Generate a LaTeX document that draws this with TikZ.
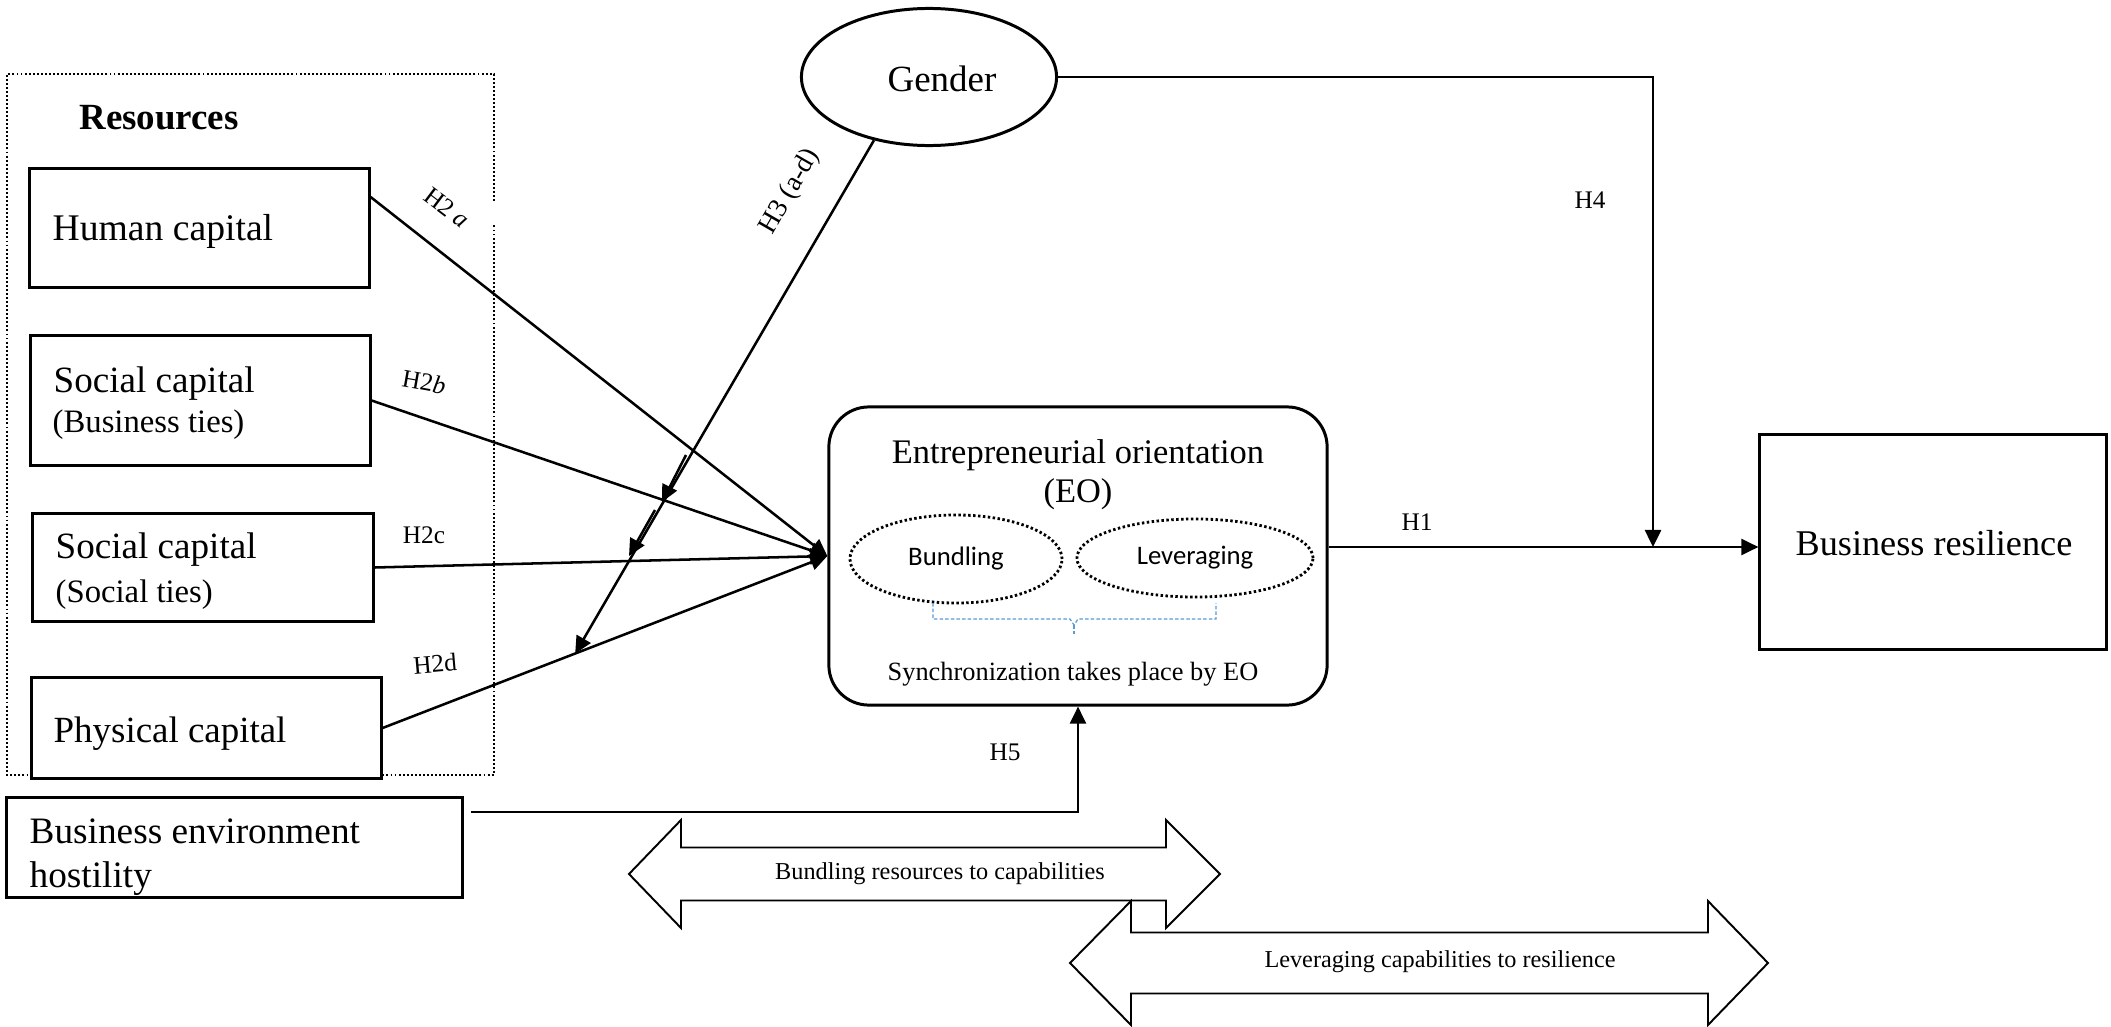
\documentclass[tikz,border=0pt]{standalone}
\usepackage{fontspec}
\setmainfont{Liberation Serif}
\newfontfamily\carlito{Carlito}
\usetikzlibrary{arrows.meta,shapes.geometric,calc}
\newcommand\fsz[1]{\fontsize{#1}{#1}\selectfont}

\begin{document}
\begin{tikzpicture}[x=0.01cm,y=-0.01cm,
  box/.style={draw,line width=0.85pt,fill=white,inner sep=0pt,rectangle},
  txt/.style={inner sep=0pt,anchor=base west},
  ctxt/.style={inner sep=0pt,anchor=base},
  hyp/.style={inner sep=0pt,font=\fsz{7.2pt}},
  link/.style={line width=0.72pt,-{Triangle[length=0.17cm,width=0.16cm]}},
  dotline/.style={line width=0.55pt,dash pattern=on 0.55pt off 0.6pt},
  dotring/.style={draw,ellipse,line width=0.8pt,dash pattern=on 0.7pt off 0.7pt,inner sep=0pt},
  bracket/.style={draw=bracketblue,line width=0.35pt,dash pattern=on 1pt off 0.6pt},
  twoway/.style={draw,line width=0.55pt,fill=white,line join=miter},
]
\definecolor{bracketblue}{RGB}{91,155,213}
\useasboundingbox (0,0) rectangle (2111,1027);

% resources frame, left open beside the H2a label
\draw[dotline] (494,201) -- (494,74) -- (7,74) -- (7,775) -- (494,775) -- (494,224);
\node[inner sep=0pt,font=\fsz{10.5pt}\bfseries] (restitle) at (159,118) {Resources};

% resource boxes
\node[box,minimum width=3.39cm,minimum height=1.18cm] (hc) at (199.5,228) {};
\node[txt,font=\fsz{10.7pt}] (hct) at (52,240) {Human capital};

\node[box,minimum width=3.39cm,minimum height=1.29cm] (bt) at (200.5,400.5) {};
\node[txt,font=\fsz{10.55pt}] (btt1) at (53,392) {Social capital};
\node[txt,font=\fsz{9.3pt}] (btt2) at (52,432) {(Business ties)};

\node[box,minimum width=3.40cm,minimum height=1.07cm] (st) at (203,567.5) {};
\node[txt,font=\fsz{10.55pt}] (stt1) at (55,558) {Social capital};
\node[txt,font=\fsz{9.3pt}] (stt2) at (55,602) {(Social ties)};

\node[box,minimum width=3.49cm,minimum height=1.00cm] (pc) at (206.5,728) {};
\node[txt,font=\fsz{10.5pt}] (pct) at (53,742) {Physical capital};

\node[box,minimum width=4.55cm,minimum height=0.99cm] (hb) at (234.5,847.5) {};
\node[txt,font=\fsz{10.6pt}] (hbt1) at (29,843) {Business environment};
\node[txt,font=\fsz{10.6pt}] (hbt2) at (29,887) {hostility};

% moderator
\node[draw,ellipse,line width=0.85pt,fill=white,minimum width=2.55cm,minimum height=1.37cm,inner sep=0pt] (gender) at (929,77) {};
\node[ctxt,font=\fsz{10.5pt}] (gendert) at (942,91) {Gender};

% entrepreneurial orientation
\node[box,rounded corners=0.4cm,minimum width=4.98cm,minimum height=2.98cm] (eo) at (1078,556) {};
\node[ctxt,font=\fsz{9.8pt}] (eot1) at (1078,463) {Entrepreneurial orientation};
\node[ctxt,font=\fsz{9.8pt}] (eot2) at (1078,502) {(EO)};
\node[dotring,minimum width=2.12cm,minimum height=0.88cm,font=\carlito\fsz{7.6pt}] (bund) at (956,559) {Bundling};
\node[dotring,minimum width=2.36cm,minimum height=0.78cm,font=\carlito\fsz{7.6pt}] (lev) at (1195,558) {Leveraging};
\draw[bracket] (933,603) -- (933,619) -- (1070,619) -- (1074,625) -- (1078,619) -- (1216,619) -- (1216,603);
\draw[bracket] (1074,625) -- (1074,636);
\node[ctxt,font=\fsz{7.5pt}] (sync) at (1073,680) {Synchronization takes place by EO};

% outcome
\node[box,minimum width=3.46cm,minimum height=2.14cm] (res) at (1933,542) {};
\node[ctxt,font=\fsz{10.3pt}] (rest) at (1934,555) {Business resilience};

% H2: resources to EO
\draw[link] ([yshift=0.31cm]hc.east) -- (eo.west);
\draw[link] (bt.east) -- (eo.west);
\draw[link] (st.east) -- (eo.west);
\draw[link] (pc.east) -- (eo.west);
\node[hyp,rotate=-37] (h2a) at (447,208) {H2 \textit{a}};
\node[hyp,rotate=-10] (h2b) at (424,382) {H2\textit{b}};
\node[hyp] (h2c) at (424,535) {H2c};
\node[hyp,rotate=5] (h2d) at (435,664) {H2d};

% H3: gender moderating the H2 paths
\coordinate (h3tip) at ($(pc.east)!0.433!(eo.west)$);
\draw[link] (gender.229) -- (h3tip);
\coordinate (h3a1) at (686,455);
\coordinate (h3a2) at (662,502);
\coordinate (h3b1) at (655,510);
\coordinate (h3b2) at (629,556);
\draw[link] (h3a1) -- (h3a2);
\draw[link] (h3b1) -- (h3b2);
\node[hyp,font=\fsz{7.8pt},rotate=60] (h3) at (790,192) {H3 (a-d)};

% H1 and H4
\coordinate (h1start) at ([yshift=0.09cm]eo.east);
\draw[link] (h1start) -- (h1start -| res.west);
\node[hyp] (h1) at (1417,522) {H1};
\coordinate (h4end) at (1653,547);
\draw[link] (gender.east) -| (h4end);
\node[hyp] (h4) at (1590,200) {H4};

% H5
\coordinate (h5start) at ([xshift=0.07cm,yshift=0.355cm]hb.east);
\draw[link] (h5start) -| (eo.south);
\node[hyp] (h5) at (1005,752) {H5};

% process arrows
\draw[twoway] (629,874) -- (681,820) -- (681,847.5) -- (1166,847.5) -- (1166,820) -- (1220,874)
  -- (1166,928) -- (1166,900.5) -- (681,900.5) -- (681,928) -- cycle;
\node[inner sep=0pt,font=\fsz{6.9pt}] (bundcap) at (940,874) {Bundling resources to capabilities};
\draw[twoway] (1070,963) -- (1131,901) -- (1131,932.5) -- (1708,932.5) -- (1708,901) -- (1768,963)
  -- (1708,1025) -- (1708,993.5) -- (1131,993.5) -- (1131,1025) -- cycle;
\node[inner sep=0pt,font=\fsz{6.9pt}] (levcap) at (1440,962) {Leveraging capabilities to resilience};
\end{tikzpicture}
\end{document}
